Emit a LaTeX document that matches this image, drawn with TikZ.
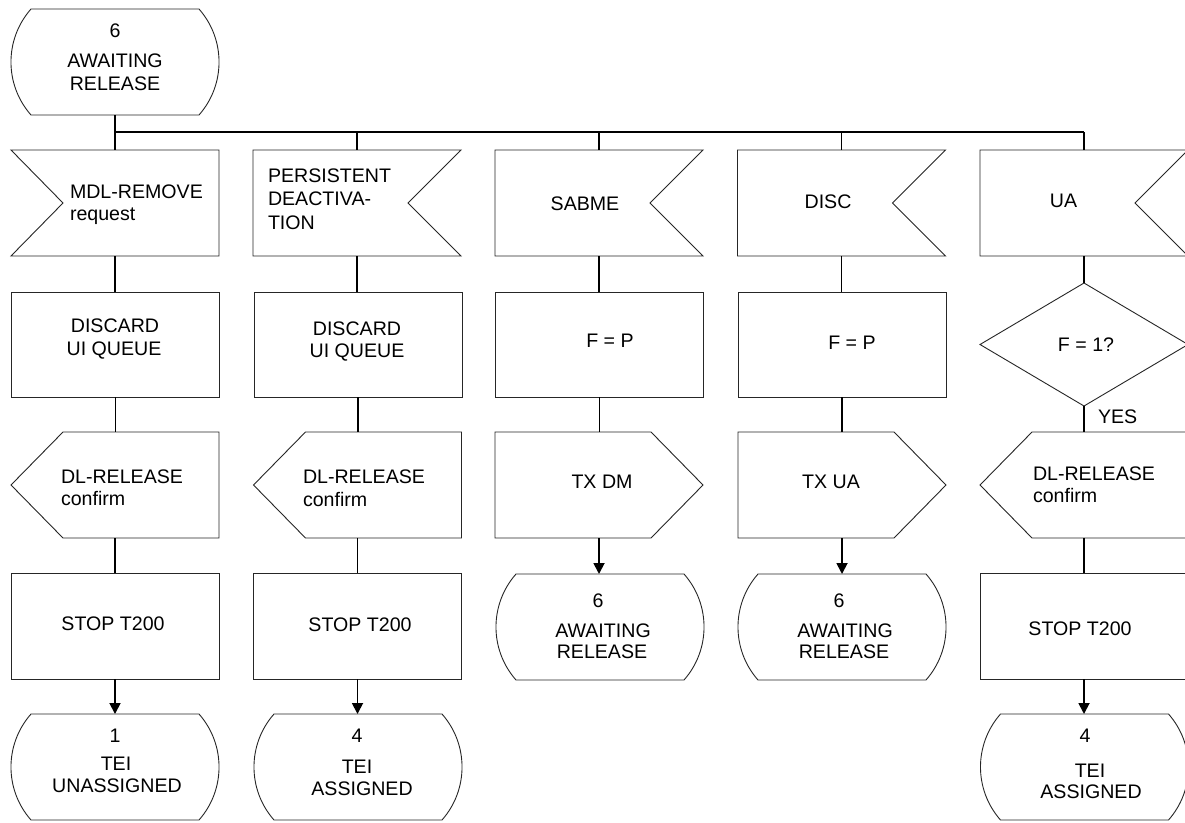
\documentclass[tikz,border=0pt]{standalone}
\usepackage{fontspec}
\setmainfont{Liberation Sans}
\usetikzlibrary{arrows.meta,calc}
\tikzset{
  cell/.style={draw=none, rectangle, inner sep=0pt, outer sep=0pt, minimum width=208pt, minimum height=106pt},
  outline/.style={draw=black!85, line width=0.9pt, line join=miter},
  conn/.style={draw=black, line width=1.8pt},
  arr/.style={conn, -{Triangle[length=11pt,width=11pt]}},
  txt/.style={font=\fontsize{19.6}{22}\selectfont, inner sep=0pt, outer sep=0pt, anchor=base},
  ltxt/.style={txt, anchor=base west},
}
\newcommand\drawstate[1]{\draw[outline] ($(#1.north west)+(20,0)$) -- ($(#1.north east)+(-20,0)$)
  .. controls ($(#1.north east)+(6.7,30.3)$) and ($(#1.south east)+(6.7,-30.3)$) .. ($(#1.south east)+(-20,0)$)
  -- ($(#1.south west)+(20,0)$)
  .. controls ($(#1.south west)+(-6.7,-30.3)$) and ($(#1.north west)+(-6.7,30.3)$) .. cycle;}
\newcommand\drawinL[1]{\draw[outline] (#1.north west) -- (#1.north east) -- (#1.south east) -- (#1.south west) -- ($(#1.west)+(52,0)$) -- cycle;}
\newcommand\drawinR[1]{\draw[outline] (#1.north west) -- (#1.north east) -- ($(#1.east)+(-53,0)$) -- (#1.south east) -- (#1.south west) -- cycle;}
\newcommand\drawoutR[1]{\draw[outline] (#1.north west) -- ($(#1.north east)+(-52,0)$) -- (#1.east) -- ($(#1.south east)+(-52,0)$) -- (#1.south west) -- cycle;}
\newcommand\drawoutL[1]{\draw[outline] ($(#1.north west)+(52,0)$) -- (#1.north east) -- (#1.south east) -- ($(#1.south west)+(52,0)$) -- (#1.west) -- cycle;}
\begin{document}
\begin{tikzpicture}[x=1pt,y=-1pt]
\fill[white] (0,0) rectangle (1185,822);
\useasboundingbox (0,0) rectangle (1185,822);
\clip (0,0) rectangle (1185,822);
% ---- cells
\node[cell] (s0) at (115,62) {};
\node[cell] (i1) at (115,203) {};
\node[cell] (i2) at (357,203) {};
\node[cell] (i3) at (599,203) {};
\node[cell] (i4) at (841.5,203) {};
\node[cell] (i5) at (1084,203) {};
\node[cell, minimum height=105pt] (t1) at (115.5,344.5) {};
\node[cell, minimum height=105pt] (t2) at (358,344.5) {};
\node[cell, minimum height=105pt] (t3) at (599.5,344.5) {};
\node[cell, minimum height=105pt] (t4) at (842,344.5) {};
\node[cell, minimum height=123pt] (d5) at (1084,344.5) {};
\node[cell] (o1) at (115,485) {};
\node[cell] (o2) at (357.5,485) {};
\node[cell] (o3) at (599,485) {};
\node[cell] (o4) at (842,485) {};
\node[cell] (o5) at (1084,485) {};
\node[cell] (p1) at (115,626) {};
\node[cell] (p2) at (357.5,626) {};
\node[cell] (s3) at (600,627) {};
\node[cell] (s4) at (842,627) {};
\node[cell] (p5) at (1084,626) {};
\node[cell] (s1) at (115,767) {};
\node[cell] (s2) at (358,767) {};
\node[cell] (s5) at (1084.5,767) {};
% ---- outlines
\drawstate{s0}
\drawinL{i1}
\drawinR{i2}\drawinR{i3}\drawinR{i4}\drawinR{i5}
\draw[outline] (t1.north west) rectangle (t1.south east);
\draw[outline] (t2.north west) rectangle (t2.south east);
\draw[outline] (t3.north west) rectangle (t3.south east);
\draw[outline] (t4.north west) rectangle (t4.south east);
\draw[outline] (d5.north) -- (d5.east) -- (d5.south) -- (d5.west) -- cycle;
\drawoutL{o1}\drawoutL{o2}\drawoutL{o5}
\drawoutR{o3}\drawoutR{o4}
\draw[outline] (p1.north west) rectangle (p1.south east);
\draw[outline] (p2.north west) rectangle (p2.south east);
\draw[outline] (p5.north west) rectangle (p5.south east);
\drawstate{s3}\drawstate{s4}
\drawstate{s1}\drawstate{s2}\drawstate{s5}
% ---- connectors
\coordinate (b1) at (115,132);
\coordinate (b5) at (1084,132);
\draw[conn] (s0.south) -- (b1) -- (b5);
\foreach \n in {i1,i2,i3,i4,i5}{\draw[conn] (\n.north |- b1) -- (\n.north);}
\draw[conn] (i1.south) -- (i1.south |- t1.north);
\draw[conn] (t1.south) -- (t1.south |- o1.north);
\draw[conn] (o1.south) -- (o1.south |- p1.north);
\draw[arr] (p1.south) -- (p1.south |- s1.north);
\draw[conn] (i2.south) -- (i2.south |- t2.north);
\draw[conn] (t2.south) -- (t2.south |- o2.north);
\draw[conn] (o2.south) -- (o2.south |- p2.north);
\draw[arr] (p2.south) -- (p2.south |- s2.north);
\draw[conn] (i3.south) -- (i3.south |- t3.north);
\draw[conn] (t3.south) -- (t3.south |- o3.north);
\draw[arr] (o3.south) -- (o3.south |- s3.north);
\draw[conn] (i4.south) -- (i4.south |- t4.north);
\draw[conn] (t4.south) -- (t4.south |- o4.north);
\draw[arr] (o4.south) -- (o4.south |- s4.north);
\draw[conn] (i5.south) -- (d5.north);
\draw[conn] (d5.south) -- (d5.south |- o5.north);
\draw[conn] (o5.south) -- (o5.south |- p5.north);
\draw[arr] (p5.south) -- (p5.south |- s5.north);
% ---- texts
\node[txt] (s0a) at (115,37) {6};
\node[txt] (s0b) at (115,67) {AWAITING};
\node[txt] (s0c) at (115,90) {RELEASE};
\node[ltxt] (i1a) at (70,198) {MDL-REMOVE};
\node[ltxt] (i1b) at (70,220) {request};
\node[ltxt] (i2a) at (268,182) {PERSISTENT};
\node[ltxt] (i2b) at (268,205.5) {DEACTIVA-};
\node[ltxt] (i2c) at (268,229) {TION};
\node[txt] (i3a) at (585,210) {SABME};
\node[txt] (i4a) at (828,208) {DISC};
\node[txt] (i5a) at (1063.5,207) {UA};
\node[txt] (t1a) at (115,332) {DISCARD};
\node[txt] (t1b) at (114,355) {UI QUEUE};
\node[txt] (t2a) at (357,335) {DISCARD};
\node[txt] (t2b) at (357,357) {UI QUEUE};
\node[txt] (t3a) at (610,347) {F = P};
\node[txt] (t4a) at (852,349) {F = P};
\node[txt] (d5a) at (1086,351) {F = 1?};
\node[ltxt] (yes) at (1098,423) {YES};
\node[ltxt] (o1a) at (61,483) {DL-RELEASE};
\node[ltxt] (o1b) at (61,505) {confirm};
\node[ltxt] (o2a) at (303,483) {DL-RELEASE};
\node[ltxt] (o2b) at (303,506) {confirm};
\node[ltxt] (o5a) at (1033,480) {DL-RELEASE};
\node[ltxt] (o5b) at (1033,502) {confirm};
\node[txt] (o3a) at (602,488) {TX DM};
\node[txt] (o4a) at (831,488) {TX UA};
\node[txt] (p1a) at (113,630) {STOP T200};
\node[txt] (p2a) at (360,631) {STOP T200};
\node[txt] (p5a) at (1080,635) {STOP T200};
\node[txt] (s3a) at (598,607) {6};
\node[txt] (s3b) at (603,637) {AWAITING};
\node[txt] (s3c) at (602,658) {RELEASE};
\node[txt] (s4a) at (839,607) {6};
\node[txt] (s4b) at (845,637) {AWAITING};
\node[txt] (s4c) at (844,658) {RELEASE};
\node[txt] (s1a) at (115,742) {1};
\node[txt] (s1b) at (116,770) {TEI};
\node[txt] (s1c) at (117,792) {UNASSIGNED};
\node[txt] (s2a) at (357,742) {4};
\node[txt] (s2b) at (357,773) {TEI};
\node[txt] (s2c) at (362,795) {ASSIGNED};
\node[txt] (s5a) at (1085,742) {4};
\node[txt] (s5b) at (1090,777) {TEI};
\node[txt] (s5c) at (1091,798) {ASSIGNED};
\end{tikzpicture}
\end{document}
